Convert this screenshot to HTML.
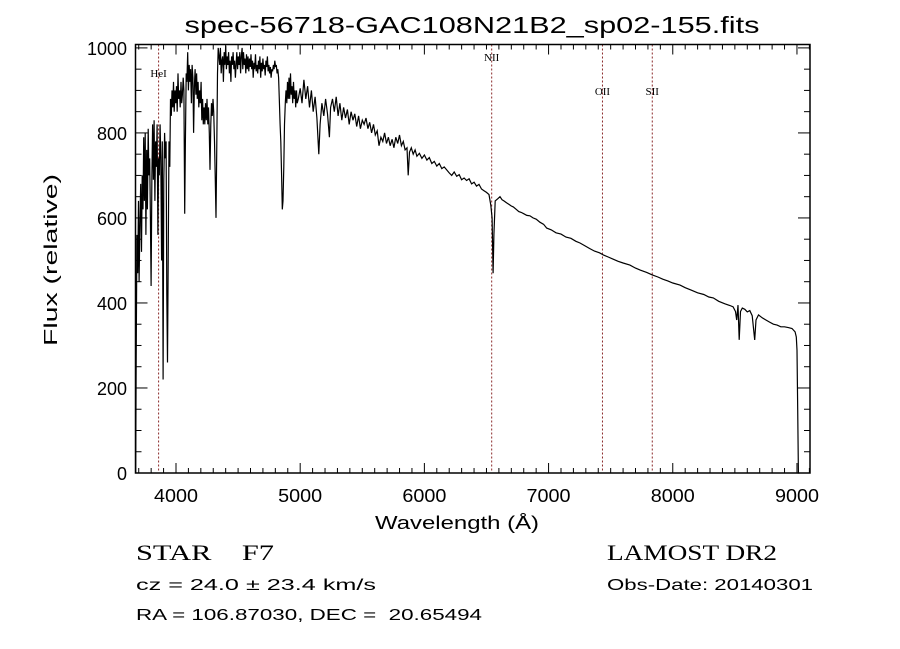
<!DOCTYPE html>
<html><head><meta charset="utf-8"><style>
html,body{margin:0;padding:0;background:#fff;}
svg{display:block;}
text{font-family:"Liberation Sans",sans-serif;fill:#000;white-space:pre;}
.s{font-family:"Liberation Serif",serif;}
</style></head><body>
<svg id="chart" width="900" height="649" viewBox="0 0 900 649" xmlns="http://www.w3.org/2000/svg" xml:space="preserve">
<rect width="900" height="649" fill="#fff"/>
<text x="472" y="33" font-size="23" text-anchor="middle" textLength="575" lengthAdjust="spacingAndGlyphs">spec-56718-GAC108N21B2_sp02-155.fits</text>
<g id="ticks"></g>
<g id="lines"></g>
<path id="spec" fill="none" stroke="#000" stroke-width="1.2" stroke-linejoin="miter"/>
<rect x="135.5" y="44.5" width="674.5" height="428.5" fill="none" stroke="#000" stroke-width="1.5"/>
<text x="457" y="529" font-size="18" text-anchor="middle" textLength="164" lengthAdjust="spacingAndGlyphs">Wavelength (Å)</text>
<text transform="translate(57,260) rotate(-90)" font-size="18" text-anchor="middle" textLength="172" lengthAdjust="spacingAndGlyphs">Flux (relative)</text>
<text x="136" y="560" font-size="22" textLength="138" lengthAdjust="spacingAndGlyphs" class="s">STAR    F7</text>
<text x="607" y="560" font-size="22" textLength="170" lengthAdjust="spacingAndGlyphs" class="s">LAMOST DR2</text>
<text x="136" y="590" font-size="16" textLength="240" lengthAdjust="spacingAndGlyphs">cz = 24.0 ± 23.4 km/s</text>
<text x="607" y="590" font-size="16" textLength="206" lengthAdjust="spacingAndGlyphs">Obs-Date: 20140301</text>
<text x="136" y="620" font-size="16" textLength="346" lengthAdjust="spacingAndGlyphs">RA = 106.87030, DEC =  20.65494</text>
</svg>
<script>
const wavelengths = [3676,3680,3685,3692,3698,3703,3710,3716,3722,3728,3734,3740,3746,3752,3758,3764,3770,3776,3782,3788,3794,3800,3806,3812,3818,3824,3830,3836,3842,3848,3854,3860,3866,3872,3878,3884,3890,3896,3902,3908,3914,3920,3926,3932,3938,3944,3950,3956,3962,3968,3974,3980,3986,3992,3998,4004,4010,4016,4022,4028,4034,4040,4046,4052,4058,4064,4070,4076,4082,4088,4094,4100,4106,4112,4118,4124,4130,4136,4142,4148,4154,4160,4166,4172,4178,4184,4190,4196,4202,4208,4214,4220,4226,4232,4238,4244,4250,4256,4262,4268,4274,4280,4286,4292,4298,4304,4310,4316,4322,4328,4334,4340,4346,4352,4358,4364,4370,4376,4382,4388,4394,4400,4406,4412,4418,4424,4430,4436,4442,4448,4454,4460,4466,4472,4478,4484,4490,4496,4502,4508,4514,4520,4526,4532,4538,4544,4550,4556,4562,4568,4574,4580,4586,4592,4598,4604,4610,4616,4622,4628,4634,4640,4646,4652,4658,4664,4670,4676,4682,4688,4694,4700,4706,4712,4718,4724,4730,4736,4742,4748,4754,4760,4766,4772,4778,4784,4790,4796,4802,4808,4814,4820,4826,4832,4838,4844,4850,4856,4862,4868,4874,4880,4886,4892,4898,4904,4910,4916,4922,4928,4934,4940,4946,4952,4958,4964,4970,4976,4985,5000,5015,5030,5045,5060,5075,5090,5105,5120,5135,5150,5160,5175,5190,5205,5220,5235,5245,5260,5275,5290,5305,5320,5335,5350,5365,5380,5395,5410,5425,5440,5455,5470,5485,5500,5515,5530,5545,5560,5575,5590,5605,5620,5635,5650,5665,5680,5695,5710,5725,5740,5755,5770,5785,5800,5815,5830,5845,5860,5870,5880,5895,5910,5925,5940,5960,5980,6000,6020,6040,6060,6080,6100,6120,6140,6160,6180,6200,6220,6240,6260,6280,6300,6320,6340,6360,6380,6400,6420,6440,6460,6480,6500,6520,6535,6545,6553,6560,6570,6590,6609,6625,6640,6660,6680,6700,6716,6740,6760,6780,6800,6825,6850,6875,6900,6930,6960,6985,7020,7060,7100,7140,7180,7220,7253,7290,7330,7370,7410,7441,7480,7520,7560,7600,7655,7700,7740,7790,7835,7880,7920,7960,8000,8058,8100,8150,8200,8250,8290,8326,8370,8420,8460,8486,8505,8515,8525,8535,8545,8560,8580,8600,8620,8640,8660,8670,8690,8720,8750,8780,8810,8840,8870,8900,8930,8960,8985,8995,9000,9006,9012,9018];
const fluxes = [0,270,560,470,640,450,600,680,520,700,620,790,640,800,560,760,620,810,700,740,600,440,700,820,690,830,640,780,720,820,560,740,700,820,740,500,780,220,690,800,740,780,420,260,540,780,720,880,840,900,860,920,850,900,870,910,850,940,880,900,860,920,870,890,930,900,610,780,940,920,990,900,960,920,950,870,960,930,800,910,950,890,940,880,920,860,900,870,920,830,880,820,860,820,870,830,880,820,860,800,713,820,870,840,880,850,780,700,600,750,940,1000,980,960,1000,940,970,980,920,990,960,1005,950,980,960,990,940,970,920,980,960,990,950,970,930,960,990,950,980,960,990,940,980,1000,950,990,960,975,940,985,950,980,945,975,955,985,950,970,930,965,950,985,945,960,940,970,950,980,930,965,945,975,950,960,935,970,955,980,945,960,940,955,930,950,945,960,950,970,955,960,940,950,930,880,820,780,700,620,640,720,820,870,900,870,920,880,930,880,940,890,910,870,920,880,900,860,900,870,880,905,870,925,880,910,860,900,850,885,835,750,820,870,840,880,845,790,860,880,850,885,840,870,830,860,835,855,820,850,830,845,815,840,810,830,820,835,810,825,800,820,795,805,770,790,780,800,775,790,770,785,765,790,775,795,770,780,760,765,700,755,765,750,760,745,752,740,748,736,742,728,733,722,728,716,720,713,706,700,708,698,702,690,694,688,692,680,684,675,679,668,664,660,655,630,600,470,560,640,645,650,643,640,636,632,628,626,620,615,613,610,606,605,600,597,590,585,576,572,565,562,555,552,545,541,535,528,522,518,513,508,503,498,494,489,482,477,472,466,461,456,452,447,442,436,430,424,420,414,412,404,398,394,391,380,360,395,313,380,388,385,379,382,370,313,360,372,365,360,355,350,348,344,344,342,340,332,320,289,150,0,0];
const xTickValues = [4000,5000,6000,7000,8000,9000];
const yTickValues = [0,200,400,600,800,1000];
const lineNames = ["HeI","NII","OII","SII"];
const lineWaves = [3860,6542,7434,7835];

const X0=135.5, X1=810, Y0=473, Y1=44.5;
const xMin=3674, xMax=9105, yMin=0, yMax=1008;
function xs(w){return X0+(w-xMin)/(xMax-xMin)*(X1-X0);}
function ys(f){return Y0-(f-yMin)/(yMax-yMin)*(Y0-Y1);}
const NS="http://www.w3.org/2000/svg";
function mk(tag,attrs,parent){const e=document.createElementNS(NS,tag);for(const k in attrs)e.setAttribute(k,attrs[k]);parent.appendChild(e);return e;}

let d="";
const n=Math.min(wavelengths.length,fluxes.length);
for(let i=0;i<n;i++){
  const f=Math.min(fluxes[i],yMax);
  d+=(i?"L":"M")+xs(wavelengths[i]).toFixed(1)+","+ys(f).toFixed(1);
}
document.getElementById("spec").setAttribute("d",d);

const tg=document.getElementById("ticks");
for(let w=3700;w<=9100;w+=100){
  const x=xs(w); const major=(w%1000===0); const L=major?10:5;
  const t1=mk("line",{x1:x,y1:Y0,x2:x,y2:Y0-L,stroke:"#000","stroke-width":1},tg);
  
  
  const t2=mk("line",{x1:x,y1:Y1,x2:x,y2:Y1+L,stroke:"#000","stroke-width":1},tg);
  
  
}
xTickValues.forEach(v=>{
  const t=mk("text",{x:xs(v),y:502,"font-size":18,"text-anchor":"middle",textLength:44,lengthAdjust:"spacingAndGlyphs"},tg);
  t.textContent=v;
  
  
});
for(let f=0;f<=1000;f+=50){
  const y=ys(f); const major=(f%200===0); const L=major?12:6;
  const t1=mk("line",{x1:X0,y1:y,x2:X0+L,y2:y,stroke:"#000","stroke-width":1},tg);
  
  
  const t2=mk("line",{x1:X1,y1:y,x2:X1-L,y2:y,stroke:"#000","stroke-width":1},tg);
  
  
}
yTickValues.forEach(v=>{
  const t=mk("text",{x:127,y:ys(v)+7,"font-size":18,"text-anchor":"end"},tg);
  t.textContent=v;
  
  
});
const lg=document.getElementById("lines");
const labelY=[77,61,95,95];
lineWaves.forEach((w,i)=>{
  const x=xs(w);
  const l=mk("line",{x1:x,y1:Y1,x2:x,y2:Y0,stroke:"#8b2a2a","stroke-width":1,"stroke-dasharray":"2,2"},lg);
  
  
  const t=mk("text",{x:x,y:labelY[i],"font-size":11,"text-anchor":"middle",class:"s"},lg);
  t.textContent=lineNames[i];
  
  
});
</script>
</body></html>
